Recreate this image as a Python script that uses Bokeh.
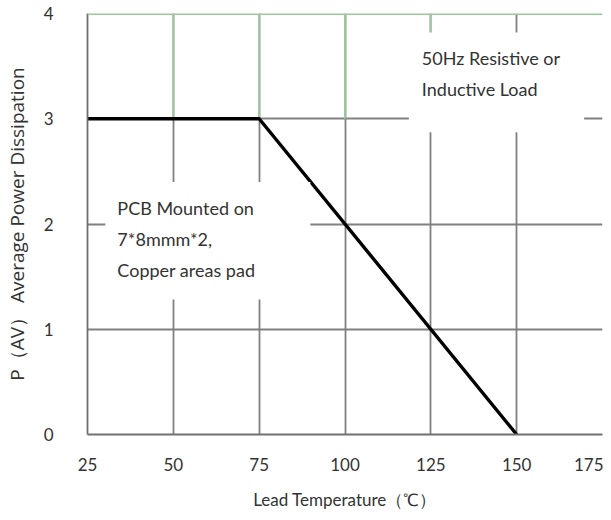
from bokeh.plotting import figure
from bokeh.models import Label, Range1d, FixedTicker, Span
from bokeh.embed import file_html
from bokeh.resources import INLINE

# Data
temps = [25, 75, 150]
power = [3, 3, 0]
x_ticks = [25, 50, 75, 100, 125, 150, 175]
y_ticks = [0, 1, 2, 3, 4]
green_cols = [50, 75, 100, 125]
note_right = "50Hz Resistive or\nInductive Load"
note_left = "PCB Mounted on\n7*8mmm*2,\nCopper areas pad"

FONT = "Lato"
GRID = "#808080"
GREEN = "#9cc89c"

p = figure(width=603, height=512, output_backend="svg", toolbar_location=None,
           x_range=Range1d(25, 175), y_range=Range1d(0, 4),
           min_border_left=82, min_border_right=1, min_border_top=13, min_border_bottom=77)

p.outline_line_color = None
p.background_fill_color = "white"

p.xaxis.ticker = FixedTicker(ticks=x_ticks)
p.yaxis.ticker = FixedTicker(ticks=y_ticks)
p.xgrid.ticker = FixedTicker(ticks=x_ticks)
p.ygrid.ticker = FixedTicker(ticks=y_ticks)
for g in (p.xgrid, p.ygrid):
    g.grid_line_color = GRID
    g.grid_line_width = 1.8
    g.grid_line_alpha = 1.0

for ax in (p.xaxis, p.yaxis):
    ax.axis_line_color = "#707070"
    ax.axis_line_width = 1.8
    ax.major_tick_line_color = None
    ax.minor_tick_line_color = None
    ax.major_tick_out = 0
    ax.major_tick_in = 0
    ax.minor_tick_out = 0
    ax.minor_tick_in = 0
    ax.major_label_text_font = FONT
    ax.major_label_text_font_size = "17px"
    ax.major_label_text_color = "#333333"
    ax.axis_label_text_font_style = "normal"
    ax.axis_label_text_color = "#333333"

p.xaxis.axis_label = "Lead Temperature（℃）"
p.xaxis.axis_label_text_font = FONT
p.xaxis.axis_label_text_font_size = "17px"
p.yaxis.axis_label = "P（AV） Average Power Dissipation"
p.yaxis.axis_label_text_font = "Open Sans"
p.yaxis.axis_label_text_font_size = "19px"
p.xaxis.major_label_standoff = 23
p.xaxis.axis_label_standoff = 15
p.yaxis.major_label_standoff = 34
p.yaxis.axis_label_standoff = 11

# green top band column lines and top border
p.segment(x0=green_cols, x1=green_cols, y0=[y_ticks[3]] * len(green_cols),
          y1=[y_ticks[4]] * len(green_cols), line_color=GREEN, line_width=1.8)
p.add_layout(Span(location=y_ticks[-1], dimension="width", line_color=GREEN, line_width=3))

# derating curve
p.line(temps, power, line_color="black", line_width=3.4)

lab1 = Label(x=118.6, y=3.82, text=note_right, anchor="top_left",
             text_font=FONT, text_font_size="18px", text_color="#333333",
             text_line_height=1.4,
             background_fill_color="white", padding=dict(left=13, right=24, top=15, bottom=32))
lab2 = Label(x=30.2, y=2.40, text=note_left, anchor="top_left",
             text_font=FONT, text_font_size="18px", text_color="#333333",
             text_line_height=1.42,
             background_fill_color="white", padding=dict(left=12, right=55, top=15, bottom=18))
p.add_layout(lab1)
p.add_layout(lab2)

open("out.html", "w").write(file_html(p, INLINE))
